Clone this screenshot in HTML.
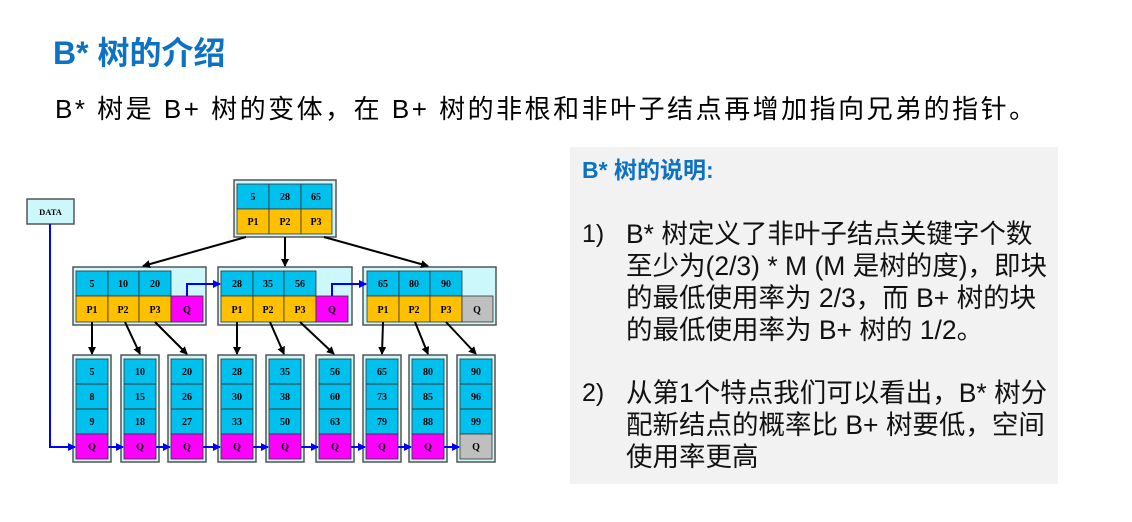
<!DOCTYPE html>
<html><head><meta charset="utf-8"><style>
body{margin:0;width:1132px;height:522px;background:#fff;position:relative;overflow:hidden;font-family:"Liberation Sans","Noto Sans CJK SC",sans-serif}
.t{position:absolute;white-space:nowrap}
#title{left:53px;top:28px;font-size:32px;font-weight:bold;color:#0e72c4}
#sub{left:55px;top:89px;font-size:26px;letter-spacing:2.5px;color:#000}
#panel{position:absolute;left:570px;top:147px;width:488px;height:337px;background:#f2f2f2}
.p{position:absolute;white-space:nowrap;font-size:26.5px;color:#111;line-height:32px}
</style></head><body>
<div class="t" id="title">B* 树的介绍</div>
<div class="t" id="sub">B* 树是 B+ 树的变体，在 B+ 树的非根和非叶子结点再增加指向兄弟的指针。</div>
<div id="panel">
<div class="p" style="left:12px;top:7px;font-size:23px;font-weight:bold;color:#0e72c4">B* 树的说明:</div>
<div class="p" style="left:12px;top:71px;font-size:25px">1)</div>
<div class="p" style="left:56px;top:71px">B* 树定义了非叶子结点关键字个数<br>至少为(2/3) * M (M 是树的度)，即块<br>的最低使用率为 2/3，而 B+ 树的块<br>的最低使用率为 B+ 树的 1/2。</div>
<div class="p" style="left:12px;top:230px;font-size:25px">2)</div>
<div class="p" style="left:56px;top:230px">从第1个特点我们可以看出，B* 树分<br>配新结点的概率比 B+ 树要低，空间<br>使用率更高</div>
</div>
<svg width="1132" height="522" style="position:absolute;left:0;top:0" font-family="Liberation Serif,serif" font-weight="bold" font-size="10">
<defs>
<marker id="ak" markerWidth="8" markerHeight="8" refX="7" refY="4" orient="auto" markerUnits="userSpaceOnUse"><path d="M0,0L8,4L0,8z" fill="#000"/></marker>
<marker id="ab" markerWidth="8" markerHeight="8" refX="7" refY="4" orient="auto" markerUnits="userSpaceOnUse"><path d="M0,0L8,4L0,8z" fill="#00f"/></marker>
</defs>
<g stroke="#555" stroke-width="1.5">
<rect x="234" y="180" width="102" height="57" fill="#cdf8fb"/>
<rect x="73" y="267" width="133" height="58" fill="#cdf8fb"/>
<rect x="218" y="267" width="134" height="58" fill="#cdf8fb"/>
<rect x="363" y="267" width="133" height="58" fill="#cdf8fb"/>
<rect x="27" y="199" width="47" height="25" fill="#cdf8fb"/>
</g>
<text x="50.5" y="215" text-anchor="middle" font-size="8.5">DATA</text>
<g stroke="#333" stroke-width="0.8">
<rect x="237" y="184" width="32" height="25" fill="#00c0ee"/><rect x="269" y="184" width="32" height="25" fill="#00c0ee"/><rect x="301" y="184" width="31" height="25" fill="#00c0ee"/>
<rect x="237" y="209" width="32" height="25" fill="#ffc000"/><rect x="269" y="209" width="32" height="25" fill="#ffc000"/><rect x="301" y="209" width="31" height="25" fill="#ffc000"/>
<rect x="76" y="271" width="32" height="25" fill="#00c0ee"/><rect x="108" y="271" width="31" height="25" fill="#00c0ee"/><rect x="139" y="271" width="32" height="25" fill="#00c0ee"/>
<rect x="76" y="296" width="32" height="26" fill="#ffc000"/><rect x="108" y="296" width="31" height="26" fill="#ffc000"/><rect x="139" y="296" width="32" height="26" fill="#ffc000"/><rect x="171" y="296" width="32" height="26" fill="#ff00ff"/>
<rect x="221" y="271" width="32" height="25" fill="#00c0ee"/><rect x="253" y="271" width="31" height="25" fill="#00c0ee"/><rect x="284" y="271" width="32" height="25" fill="#00c0ee"/>
<rect x="221" y="296" width="32" height="26" fill="#ffc000"/><rect x="253" y="296" width="31" height="26" fill="#ffc000"/><rect x="284" y="296" width="32" height="26" fill="#ffc000"/><rect x="316" y="296" width="32" height="26" fill="#ff00ff"/>
<rect x="367" y="271" width="32" height="25" fill="#00c0ee"/><rect x="399" y="271" width="31" height="25" fill="#00c0ee"/><rect x="430" y="271" width="32" height="25" fill="#00c0ee"/>
<rect x="367" y="296" width="32" height="26" fill="#ffc000"/><rect x="399" y="296" width="31" height="26" fill="#ffc000"/><rect x="430" y="296" width="32" height="26" fill="#ffc000"/><rect x="462" y="296" width="31" height="26" fill="#bfbfbf"/>
</g>
<g text-anchor="middle">
<text x="253" y="200">5</text><text x="285" y="200">28</text><text x="316" y="200">65</text>
<text x="253" y="225">P1</text><text x="285" y="225">P2</text><text x="316" y="225">P3</text>
<text x="92" y="287">5</text><text x="123" y="287">10</text><text x="155" y="287">20</text>
<text x="92" y="313">P1</text><text x="123" y="313">P2</text><text x="155" y="313">P3</text><text x="187" y="313">Q</text>
<text x="237" y="287">28</text><text x="268" y="287">35</text><text x="300" y="287">56</text>
<text x="237" y="313">P1</text><text x="268" y="313">P2</text><text x="300" y="313">P3</text><text x="332" y="313">Q</text>
<text x="383" y="287">65</text><text x="414" y="287">80</text><text x="446" y="287">90</text>
<text x="383" y="313">P1</text><text x="414" y="313">P2</text><text x="446" y="313">P3</text><text x="477" y="313">Q</text>
</g>
<g text-anchor="middle">
<g transform="translate(73,0)"><rect x="0" y="355" width="38" height="107" fill="#cdf8fb" stroke="#555" stroke-width="1.5"/><rect x="3" y="359" width="32" height="75" fill="#00c0ee" stroke="#333" stroke-width="0.8"/><line x1="3" x2="35" y1="384" y2="384" stroke="#333"/><line x1="3" x2="35" y1="409" y2="409" stroke="#333"/><rect x="3" y="434" width="32" height="25" fill="#ff00ff" stroke="#333" stroke-width="0.8"/><text x="19" y="375">5</text><text x="19" y="400">8</text><text x="19" y="425">9</text><text x="19" y="450">Q</text></g>
<g transform="translate(121,0)"><rect x="0" y="355" width="38" height="107" fill="#cdf8fb" stroke="#555" stroke-width="1.5"/><rect x="3" y="359" width="32" height="75" fill="#00c0ee" stroke="#333" stroke-width="0.8"/><line x1="3" x2="35" y1="384" y2="384" stroke="#333"/><line x1="3" x2="35" y1="409" y2="409" stroke="#333"/><rect x="3" y="434" width="32" height="25" fill="#ff00ff" stroke="#333" stroke-width="0.8"/><text x="19" y="375">10</text><text x="19" y="400">15</text><text x="19" y="425">18</text><text x="19" y="450">Q</text></g>
<g transform="translate(168,0)"><rect x="0" y="355" width="38" height="107" fill="#cdf8fb" stroke="#555" stroke-width="1.5"/><rect x="3" y="359" width="32" height="75" fill="#00c0ee" stroke="#333" stroke-width="0.8"/><line x1="3" x2="35" y1="384" y2="384" stroke="#333"/><line x1="3" x2="35" y1="409" y2="409" stroke="#333"/><rect x="3" y="434" width="32" height="25" fill="#ff00ff" stroke="#333" stroke-width="0.8"/><text x="19" y="375">20</text><text x="19" y="400">26</text><text x="19" y="425">27</text><text x="19" y="450">Q</text></g>
<g transform="translate(218,0)"><rect x="0" y="355" width="38" height="107" fill="#cdf8fb" stroke="#555" stroke-width="1.5"/><rect x="3" y="359" width="32" height="75" fill="#00c0ee" stroke="#333" stroke-width="0.8"/><line x1="3" x2="35" y1="384" y2="384" stroke="#333"/><line x1="3" x2="35" y1="409" y2="409" stroke="#333"/><rect x="3" y="434" width="32" height="25" fill="#ff00ff" stroke="#333" stroke-width="0.8"/><text x="19" y="375">28</text><text x="19" y="400">30</text><text x="19" y="425">33</text><text x="19" y="450">Q</text></g>
<g transform="translate(266,0)"><rect x="0" y="355" width="38" height="107" fill="#cdf8fb" stroke="#555" stroke-width="1.5"/><rect x="3" y="359" width="32" height="75" fill="#00c0ee" stroke="#333" stroke-width="0.8"/><line x1="3" x2="35" y1="384" y2="384" stroke="#333"/><line x1="3" x2="35" y1="409" y2="409" stroke="#333"/><rect x="3" y="434" width="32" height="25" fill="#ff00ff" stroke="#333" stroke-width="0.8"/><text x="19" y="375">35</text><text x="19" y="400">38</text><text x="19" y="425">50</text><text x="19" y="450">Q</text></g>
<g transform="translate(316,0)"><rect x="0" y="355" width="38" height="107" fill="#cdf8fb" stroke="#555" stroke-width="1.5"/><rect x="3" y="359" width="32" height="75" fill="#00c0ee" stroke="#333" stroke-width="0.8"/><line x1="3" x2="35" y1="384" y2="384" stroke="#333"/><line x1="3" x2="35" y1="409" y2="409" stroke="#333"/><rect x="3" y="434" width="32" height="25" fill="#ff00ff" stroke="#333" stroke-width="0.8"/><text x="19" y="375">56</text><text x="19" y="400">60</text><text x="19" y="425">63</text><text x="19" y="450">Q</text></g>
<g transform="translate(363,0)"><rect x="0" y="355" width="38" height="107" fill="#cdf8fb" stroke="#555" stroke-width="1.5"/><rect x="3" y="359" width="32" height="75" fill="#00c0ee" stroke="#333" stroke-width="0.8"/><line x1="3" x2="35" y1="384" y2="384" stroke="#333"/><line x1="3" x2="35" y1="409" y2="409" stroke="#333"/><rect x="3" y="434" width="32" height="25" fill="#ff00ff" stroke="#333" stroke-width="0.8"/><text x="19" y="375">65</text><text x="19" y="400">73</text><text x="19" y="425">79</text><text x="19" y="450">Q</text></g>
<g transform="translate(409,0)"><rect x="0" y="355" width="38" height="107" fill="#cdf8fb" stroke="#555" stroke-width="1.5"/><rect x="3" y="359" width="32" height="75" fill="#00c0ee" stroke="#333" stroke-width="0.8"/><line x1="3" x2="35" y1="384" y2="384" stroke="#333"/><line x1="3" x2="35" y1="409" y2="409" stroke="#333"/><rect x="3" y="434" width="32" height="25" fill="#ff00ff" stroke="#333" stroke-width="0.8"/><text x="19" y="375">80</text><text x="19" y="400">85</text><text x="19" y="425">88</text><text x="19" y="450">Q</text></g>
<g transform="translate(457,0)"><rect x="0" y="355" width="38" height="107" fill="#cdf8fb" stroke="#555" stroke-width="1.5"/><rect x="3" y="359" width="32" height="75" fill="#00c0ee" stroke="#333" stroke-width="0.8"/><line x1="3" x2="35" y1="384" y2="384" stroke="#333"/><line x1="3" x2="35" y1="409" y2="409" stroke="#333"/><rect x="3" y="434" width="32" height="25" fill="#bfbfbf" stroke="#333" stroke-width="0.8"/><text x="19" y="375">90</text><text x="19" y="400">96</text><text x="19" y="425">99</text><text x="19" y="450">Q</text></g>
</g>
<g stroke="#000" stroke-width="2" marker-end="url(#ak)">
<line x1="246" y1="237" x2="143" y2="266"/>
<line x1="285" y1="237" x2="285" y2="266"/>
<line x1="324" y1="237" x2="428" y2="266"/>
<line x1="92" y1="322" x2="92" y2="354"/>
<line x1="125" y1="322" x2="140" y2="354"/>
<line x1="155" y1="322" x2="187" y2="354"/>
<line x1="237" y1="322" x2="237" y2="354"/>
<line x1="270" y1="322" x2="284" y2="354"/>
<line x1="300" y1="322" x2="334" y2="354"/>
<line x1="383" y1="322" x2="382" y2="354"/>
<line x1="415" y1="322" x2="428" y2="354"/>
<line x1="446" y1="322" x2="476" y2="354"/>
</g>
<g stroke="#00f" stroke-width="2" fill="none" marker-end="url(#ab)">
<polyline points="50,224 50,447 75,447"/>
<line x1="108" y1="447" x2="123" y2="447"/>
<line x1="156" y1="447" x2="170" y2="447"/>
<line x1="203" y1="447" x2="220" y2="447"/>
<line x1="253" y1="447" x2="268" y2="447"/>
<line x1="301" y1="447" x2="318" y2="447"/>
<line x1="351" y1="447" x2="365" y2="447"/>
<line x1="398" y1="447" x2="411" y2="447"/>
<line x1="444" y1="447" x2="459" y2="447"/>
<polyline points="187,296 187,284 220,284"/>
<polyline points="332,296 332,284 366,284"/>
</g>
</svg>
</body></html>
